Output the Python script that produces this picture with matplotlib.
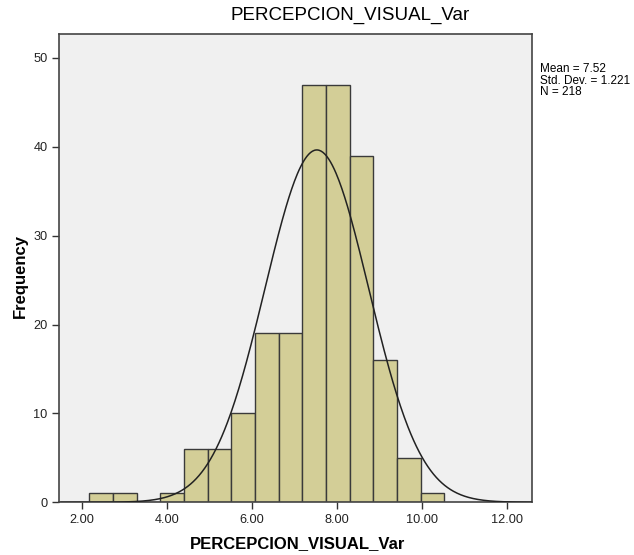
import numpy as np
import matplotlib
matplotlib.use("Agg")
import matplotlib.pyplot as plt

plt.rcParams['font.family'] = ['Liberation Sans', 'DejaVu Sans']

# Data
bin_start = 2.17
bin_width = 0.5567
counts = [1, 1, 0, 1, 6, 6, 10, 19, 19, 47, 47, 39, 16, 5, 1]
mean = 7.52
std = 1.221
n = 218
x_ticks = [2, 4, 6, 8, 10, 12]
x_tick_labels = ["2.00", "4.00", "6.00", "8.00", "10.00", "12.00"]
y_ticks = [0, 10, 20, 30, 40, 50]
title = "PERCEPCION_VISUAL_Var"

fig = plt.figure(figsize=(6.34, 5.55), dpi=100)
ax = fig.add_axes([59.3/634, 1-502.3/555, (532.3-59.3)/634, (502.3-34)/555])
ax.set_facecolor('#F0F0F0')

edges = bin_start + bin_width*np.arange(len(counts)+1)
lefts = edges[:-1]
ax.bar(lefts, counts, width=bin_width, align='edge', color='#D3CE97',
       edgecolor='#3a3a3a', linewidth=1.0, zorder=2)

xs = np.linspace(1.5, 12.6, 500)
ys = n*bin_width/(std*np.sqrt(2*np.pi))*np.exp(-0.5*((xs-mean)/std)**2)
ax.plot(xs, ys, color='#222222', linewidth=1.1, zorder=3)

ax.set_xlim(1.46, 12.59)
ax.set_ylim(0, 52.7)
ax.set_xticks(x_ticks)
ax.set_xticklabels(x_tick_labels)
ax.set_yticks(y_ticks)
ax.tick_params(axis='both', labelsize=9.2, color='#333333', labelcolor='#222222',
               length=5, width=1)
for s in ax.spines.values():
    s.set_color('#444444')
    s.set_linewidth(1.2)

fig.text(298/634, 1-544/555, title, ha='center', va='center',
         fontsize=12, fontweight='bold')
fig.text(20/634, 1-276/555, "Frequency", rotation=90, ha='center', va='center',
         fontsize=12, fontweight='bold')

fig.text(350/634, 1-15/555, title, ha='center', va='center', fontsize=13.5)
fig.text(540/634, 1-63/555, "Mean = 7.52\nStd. Dev. = 1.221\nN = 218",
         ha='left', va='top', fontsize=8.5, linespacing=0.95)

fig.savefig('out.png', dpi=100)
